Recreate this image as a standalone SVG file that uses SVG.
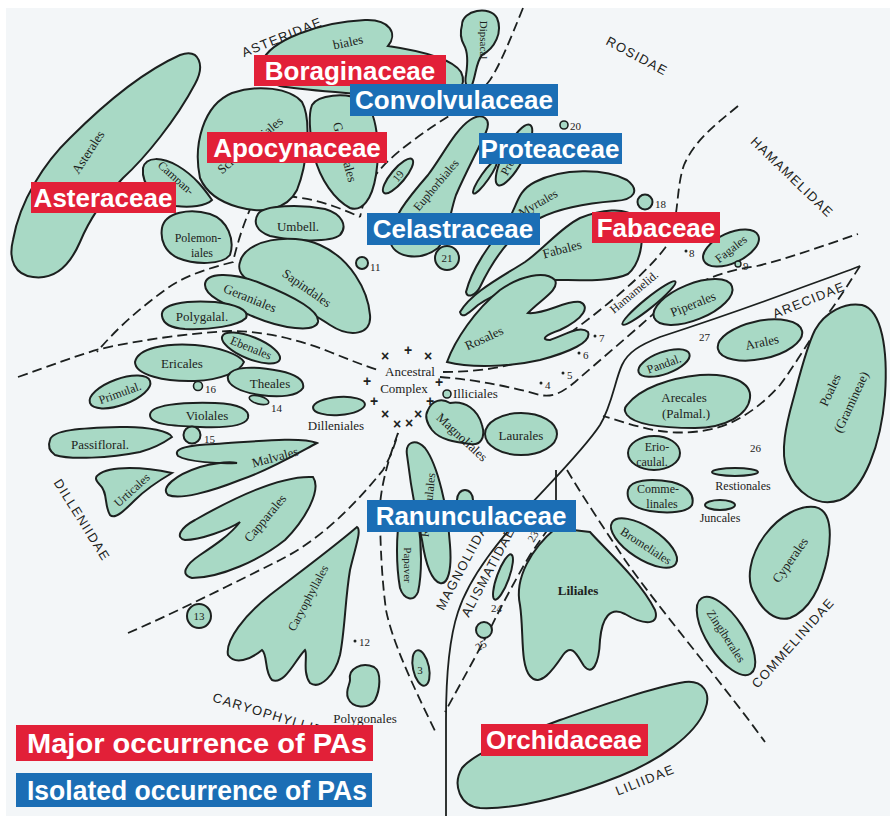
<svg xmlns="http://www.w3.org/2000/svg" width="890" height="816" viewBox="0 0 890 816">
<style>
.b{fill:#a8d9c5;stroke:#1c201f;stroke-width:2}
.t{font-family:"Liberation Serif","DejaVu Serif",serif;font-size:13px;fill:#1c2220;text-anchor:middle;dominant-baseline:central}
.s12{font-size:12px}
.s11{font-size:11px}
.n{font-family:"Liberation Serif","DejaVu Serif",serif;font-size:11px;fill:#1c2220;dominant-baseline:central}
.sub{font-family:"Liberation Sans",Arial,sans-serif;font-size:13px;letter-spacing:1.3px;fill:#1c2220;text-anchor:middle;dominant-baseline:central}
.d{fill:none;stroke:#1c201f;stroke-width:1.8;stroke-dasharray:10 5}
.sl{fill:none;stroke:#1c201f;stroke-width:1.8}
.r{fill:#e22038}
.bl{fill:#1b6eb5}
.lt{font-family:"Liberation Sans",Arial,sans-serif;font-weight:bold;font-size:26px;fill:#ffffff;text-anchor:middle}
.lg{font-family:"Liberation Sans",Arial,sans-serif;font-weight:bold;font-size:28px;fill:#ffffff}
.m{font-family:"Liberation Sans",Arial,sans-serif;font-size:14px;font-weight:bold;fill:#1c2220;text-anchor:middle;dominant-baseline:central}
.dot{fill:#1c2220}
</style>
<rect x="0" y="0" width="890" height="816" fill="#ffffff"/>
<rect x="6" y="8" width="884" height="808" fill="#f3f6f8"/>

<g id="connectors">
<path class="d" d="M 523,8 C 510,40 500,65 490,80 C 475,100 455,112 435,125 C 410,142 385,160 372,180 C 366,192 363,205 360,217"/>
<path class="d" d="M 243,204 C 260,198 280,195 295,197 C 320,200 340,208 360,217"/>
<path class="d" d="M 252,205 C 245,220 238,240 233,262 C 210,268 185,275 165,290 C 140,308 115,330 97,352"/>
<path class="d" d="M 18,377 C 50,366 75,356 100,349 C 140,340 190,333 230,331 C 265,331 300,340 330,352 C 350,360 365,366 378,370"/>
<path class="d" d="M 440,377 C 480,380 515,388 540,395 C 555,398 565,390 575,382 C 600,360 630,335 660,308 C 685,287 715,272 757,266 C 790,258 825,245 858,234"/>
<path class="d" d="M 738,106 C 715,125 695,140 684,165 C 675,190 680,225 665,248 C 650,268 625,290 600,310 C 575,330 545,352 520,362 C 495,370 465,372 440,372"/>
<path class="d" d="M 128,633 C 170,615 230,585 280,560 C 320,540 355,505 383,470 C 390,458 395,445 398,433"/>
<path class="d" d="M 398,433 C 390,455 382,480 380,505 C 380,545 382,580 386,610 C 392,640 410,680 437,735"/>
<path class="sl" d="M 556,470 L 556,515"/>
<path class="d" d="M 556,515 C 550,528 540,540 530,555 C 515,580 505,600 497,615 C 485,640 468,670 445,712"/>
<path class="d" d="M 567,470 C 585,500 605,530 625,560 C 660,610 720,680 765,742"/>
<path class="sl" d="M 446,816 L 446,720 C 446,680 448,642 458,612 C 470,575 500,540 530,505 C 555,478 585,448 600,425 C 612,405 615,380 622,365 C 628,352 640,345 660,337 C 700,324 755,305 795,290 C 822,280 845,272 860,266"/>
<path class="d" d="M 860,266 C 848,285 835,305 822,322 C 808,342 795,365 780,385 C 765,402 748,415 728,424 C 705,433 680,434 660,431 C 640,428 620,421 603,416"/>
</g>

<g id="subclass-labels">
<text class="sub" transform="translate(282,37) rotate(-22)">ASTERIDAE</text>
<text class="sub" transform="translate(637,56) rotate(28)">ROSIDAE</text>
<text class="sub" transform="translate(792,177) rotate(44)">HAMAMELIDAE</text>
<text class="sub" transform="translate(809,300) rotate(-22)">ARECIDAE</text>
<text class="sub" transform="translate(793,643) rotate(-48)">COMMELINIDAE</text>
<text class="sub" transform="translate(645,780) rotate(-22)">LILIIDAE</text>
<text class="sub" transform="translate(82,520) rotate(58)">DILLENIIDAE</text>
<text class="sub" style="text-anchor:start" transform="translate(213,697) rotate(17)">CARYOPHYLLIDAE</text>
<text class="sub" transform="translate(464,563) rotate(-62)">MAGNOLIIDAE</text>
<text class="sub" transform="translate(488,572) rotate(-62)">ALISMATIDAE</text>
</g>

<g id="asterales"><path class="b" d="M 33,277 C 15,275 8,260 13,240 C 20,200 45,162 70,138 C 103,105 142,72 180,55 C 200,48 205,66 195,84 C 176,120 145,158 123,178 C 105,197 90,218 80,242 C 70,265 55,280 33,277 Z"/><text class="t" transform="translate(88,152) rotate(-57)">Asterales</text></g>
<g id="campanulales"><path class="b" d="M 143,168 C 146,156 162,157 178,166 C 195,176 205,190 212,200 C 206,206 190,208 176,206 C 158,202 141,186 143,168 Z"/><text class="t s12" transform="translate(176,178) rotate(42)">Campan-</text></g>
<g id="lamiales"><path class="b" d="M 262,62 C 270,40 320,22 365,20 C 390,19 398,34 388,46 C 415,50 452,58 461,72 C 468,86 455,98 440,100 C 410,104 385,98 368,95 C 340,92 300,90 280,86 C 266,82 258,72 262,62 Z"/><text class="t" transform="translate(348,42) rotate(-12)">biales</text></g>
<g id="scrophulariales"><path class="b" d="M 200,178 C 193,145 203,105 232,93 C 258,84 290,88 302,102 C 312,120 307,165 297,190 C 287,210 262,214 238,207 C 220,202 206,192 200,178 Z"/><text class="t" transform="translate(250,145) rotate(-40)">Scrophulariales</text></g>
<g id="gentianales"><path class="b" d="M 312,105 C 318,95 345,92 362,100 C 378,110 380,150 376,175 C 372,200 362,212 350,208 C 335,200 320,180 314,155 C 310,135 308,115 312,105 Z"/><text class="t" transform="translate(345,152) rotate(75)">Gentianales</text></g>
<g id="dipsacales"><path class="b" d="M 462,25 C 462,10 490,5 497,18 C 503,32 495,48 482,55 C 476,62 476,75 472,85 C 468,90 464,85 466,75 C 468,62 468,52 464,45 C 460,38 460,32 462,25 Z"/><text class="t s11" transform="translate(484,40) rotate(90)">Dipsacal</text></g>
<g id="n19"><ellipse class="b" cx="398" cy="176" rx="22" ry="7" transform="rotate(-50 398 176)"/><text class="t s11" transform="translate(398,176) rotate(-50)">19</text></g>
<g id="polemoniales"><path class="b" d="M 162,228 C 165,212 190,208 210,214 C 228,220 235,240 230,255 C 222,265 195,265 178,258 C 165,252 160,240 162,228 Z"/><text class="t s12" x="198" y="238">Polemon-</text><text class="t s12" x="202" y="253">iales</text></g>
<g id="umbellales"><path class="b" d="M 258,214 C 264,205 300,204 325,209 C 342,214 348,226 340,235 C 330,243 292,241 270,236 C 256,231 253,222 258,214 Z"/><text class="t" x="298" y="226">Umbell.</text></g>
<g id="sapindales"><path class="b" d="M 240,262 C 245,240 290,232 320,245 C 350,258 368,290 370,315 C 372,335 350,338 330,325 C 300,305 265,290 248,280 C 240,275 238,268 240,262 Z"/><text class="t" transform="translate(307,288) rotate(35)">Sapindales</text></g>
<g id="n11"><circle class="b" cx="362" cy="263" r="6"/><text class="n" x="370" y="267">11</text></g>
<g id="geraniales"><path class="b" d="M 205,285 C 205,272 232,272 260,283 C 290,295 320,310 318,322 C 315,333 282,329 252,316 C 224,304 205,296 205,285 Z"/><text class="t" transform="translate(250,298) rotate(22)">Geraniales</text></g>
<g id="polygalales"><path class="b" d="M 162,316 C 160,304 185,300 215,302 C 235,304 250,310 246,318 C 238,326 210,330 185,329 C 170,328 163,323 162,316 Z"/><text class="t" x="202" y="316">Polygalal.</text></g>
<g id="ebenales"><ellipse class="b" cx="251" cy="348" rx="31" ry="11" transform="rotate(22 251 348)"/><text class="t s12" transform="translate(251,348) rotate(22)">Ebenales</text></g>
<g id="ericales"><path class="b" d="M 135,362 C 138,348 165,343 195,345 C 220,347 240,355 244,362 C 240,372 220,380 195,381 C 165,382 135,375 135,362 Z"/><text class="t" x="182" y="363">Ericales</text></g>
<g id="theales"><path class="b" d="M 228,376 C 232,366 255,366 280,371 C 295,374 305,380 303,388 C 298,396 280,398 260,395 C 240,392 226,385 228,376 Z"/><text class="t" x="270" y="383">Theales</text></g>
<g id="primulales"><ellipse class="b" cx="120" cy="392" rx="32" ry="13" transform="rotate(-20 120 392)"/><text class="t s12" transform="translate(120,393) rotate(-20)">Primulal.</text></g>
<g id="n16"><circle class="b" cx="198" cy="386" r="4.5" style="stroke-width:1.6"/><text class="n" x="205" y="389">16</text></g>
<g id="n14"><ellipse class="b" cx="259" cy="400" rx="10" ry="4" transform="rotate(15 259 400)" style="stroke-width:1.6"/><text class="n" x="271" y="408">14</text></g>
<g id="violales"><path class="b" d="M 150,415 C 150,405 180,402 215,403 C 240,404 250,410 248,418 C 245,426 225,428 200,427 C 175,426 150,425 150,415 Z"/><text class="t" x="207" y="415">Violales</text></g>
<g id="n15"><circle class="b" cx="192" cy="435" r="8.5"/><text class="n" x="204" y="439">15</text></g>
<g id="passiflorales"><path class="b" d="M 50,440 C 52,430 80,428 120,427 C 150,426 170,432 172,437 C 165,442 155,448 140,452 C 110,458 70,460 55,455 C 48,450 48,445 50,440 Z"/><text class="t" x="100" y="444">Passifloral.</text></g>
<g id="urticales"><path class="b" d="M 98,475 C 110,465 145,467 172,473 C 160,480 145,490 135,500 C 125,510 115,520 110,515 C 104,505 108,492 100,485 C 95,480 95,477 98,475 Z"/><text class="t s12" transform="translate(132,490) rotate(-42)">Urticales</text></g>
<g id="malvales"><path class="b" d="M 317,443 C 300,452 270,470 240,480 C 210,492 180,500 168,495 C 160,488 175,475 200,467 C 220,462 232,462 237,463 C 220,464 188,462 178,456 C 172,448 190,445 215,444 C 250,442 300,436 317,443 Z"/><text class="t" transform="translate(275,457) rotate(-15)">Malvales</text></g>
<g id="capparales"><path class="b" d="M 313,477 C 322,490 305,520 285,540 C 260,560 220,578 192,578 C 180,575 185,565 200,555 C 215,545 230,535 240,522 C 228,530 200,540 185,540 C 175,538 180,528 195,520 C 230,500 280,475 313,477 Z"/><text class="t" transform="translate(265,518) rotate(-50)">Capparales</text></g>
<g id="n13"><circle class="b" cx="199" cy="616" r="12"/><text class="t s11" x="199" y="616">13</text></g>
<g id="caryophyllales"><path class="b" d="M 357,527 C 362,530 355,548 350,570 C 345,600 345,630 340,655 C 335,675 320,690 310,683 C 302,672 308,655 305,650 C 295,660 285,685 272,680 C 264,672 268,655 262,650 C 250,660 235,665 228,655 C 225,640 245,615 270,595 C 300,572 330,550 357,527 Z"/><text class="t s12" transform="translate(308,598) rotate(-62)">Caryophyllales</text></g>
<g id="n12"><circle class="dot" cx="355" cy="641" r="1.5"/><text class="n" x="359" y="642">12</text></g>
<g id="polygonales"><path class="b" d="M 350,680 C 348,668 362,662 374,667 C 382,672 380,690 375,700 C 368,710 352,708 348,698 C 345,690 350,685 350,680 Z"/><text class="t" x="365" y="718">Polygonales</text></g>
<g id="n3"><ellipse class="b" cx="421" cy="668" rx="8" ry="18" transform="rotate(-12 421 668)"/><text class="t s11" x="420" y="670">3</text></g>
<g id="papaverales"><path class="b" d="M 400,515 C 405,505 415,508 418,520 C 422,545 422,575 418,592 C 414,602 404,600 400,588 C 396,565 396,535 400,515 Z"/><text class="t s11" transform="translate(408,565) rotate(90)">Papaver</text></g>
<g id="ranunculales"><path class="b" d="M 407,455 C 405,442 415,438 425,448 C 438,465 448,510 450,545 C 452,570 448,585 440,583 C 430,580 425,560 422,540 C 416,515 410,480 407,455 Z"/><text class="t s12" transform="translate(428,505) rotate(-84)">Ranunculales</text></g>
<g id="n2"><ellipse class="b" cx="465" cy="500" rx="8" ry="10"/></g>
<g id="n23"><text class="n" transform="translate(530,541) rotate(-60)">23</text></g>
<g id="n24"><ellipse class="b" cx="503" cy="577" rx="6" ry="24" transform="rotate(20 503 577)"/><text class="n" x="491" y="608">24</text></g>
<g id="n25"><circle class="b" cx="484" cy="630" r="8"/><text class="n" transform="translate(476,648) rotate(-30)">25</text></g>
<g id="liliales"><path class="b" d="M 520,605 C 514,578 532,548 556,528 L 590,532 C 606,550 640,580 655,610 C 660,625 645,626 625,614 C 610,606 602,618 600,640 C 599,665 592,676 584,666 C 577,655 572,643 563,655 C 553,670 540,688 530,676 C 520,664 524,632 520,605 Z"/><text class="t" style="font-weight:bold" x="578" y="590">Liliales</text></g>
<g id="orchidales"><path class="b" d="M 462,768 C 475,752 520,735 560,720 C 600,706 650,688 685,682 C 702,680 712,692 705,710 C 695,735 660,760 620,776 C 580,792 520,810 480,808 C 460,806 452,785 462,768 Z"/><text class="t" x="575" y="751">Orchidales</text></g>
<g id="bromeliales"><ellipse class="b" cx="644" cy="543" rx="38" ry="16" transform="rotate(33 644 543)"/><text class="t s12" transform="translate(646,546) rotate(33)">Bromeliales</text></g>
<g id="zingiberales"><ellipse class="b" cx="726" cy="636" rx="45" ry="19" transform="rotate(57 726 636)"/><text class="t s12" transform="translate(726,636) rotate(57)">Zingiberales</text></g>
<g id="cyperales"><path class="b" d="M 755,595 C 745,580 750,555 765,535 C 780,515 800,505 815,507 C 830,510 832,530 828,555 C 822,585 810,610 790,618 C 775,622 762,610 755,595 Z"/><text class="t" transform="translate(790,560) rotate(-55)">Cyperales</text></g>
<g id="eriocaulales"><ellipse class="b" cx="654" cy="453" rx="26" ry="17"/><text class="t s12" x="657" y="447">Erio-</text><text class="t s12" x="652" y="462">caulal.</text></g>
<g id="commelinales"><path class="b" d="M 628,490 C 630,480 650,478 672,482 C 688,486 695,495 692,505 C 688,512 670,514 650,511 C 632,508 626,500 628,490 Z"/><text class="t s12" x="658" y="489">Comme-</text><text class="t s12" x="662" y="504">linales</text></g>
<g id="restionales"><ellipse class="b" cx="735" cy="472" rx="23" ry="4"/><text class="t s12" x="743" y="486">Restionales</text></g>
<g id="juncales"><ellipse class="b" cx="720" cy="505" rx="15" ry="5"/><text class="t s12" x="720" y="518">Juncales</text></g>
<g id="n26"><text class="n" x="750" y="448">26</text></g>
<g id="poales"><path class="b" d="M 815,330 C 825,312 845,302 862,305 C 882,310 888,350 885,395 C 881,445 864,490 840,500 C 816,508 796,492 787,470 C 780,452 786,425 793,400 C 799,378 806,348 815,330 Z"/><text class="t" transform="translate(830,390) rotate(-65)">Poales</text><text class="t" transform="translate(851,402) rotate(-65)">(Gramineae)</text></g>
<g id="arecales"><path class="b" d="M 627,405 C 640,388 670,378 700,375 C 730,373 752,382 750,398 C 748,415 725,428 695,428 C 665,428 635,425 627,415 C 624,411 624,408 627,405 Z"/><text class="t" x="684" y="397">Arecales</text><text class="t" x="686" y="413">(Palmal.)</text></g>
<g id="pandanales"><ellipse class="b" cx="664" cy="363" rx="27" ry="11" transform="rotate(-20 664 363)"/><text class="t s12" transform="translate(664,364) rotate(-20)">Pandal.</text></g>
<g id="n27"><text class="n" x="699" y="337">27</text></g>
<g id="arales"><ellipse class="b" cx="760" cy="340" rx="43" ry="19" transform="rotate(-12 760 340)"/><text class="t" transform="translate(762,342) rotate(-12)">Arales</text></g>
<g id="piperales"><ellipse class="b" cx="693" cy="302" rx="42" ry="18" transform="rotate(-22 693 302)"/><text class="t" transform="translate(693,304) rotate(-22)">Piperales</text></g>
<g id="hamamelidales"><ellipse class="b" cx="649" cy="303" rx="34" ry="5" transform="rotate(-39 649 303)"/><text class="t s12" transform="translate(634,292) rotate(-40)">Hamamelid.</text></g>
<g id="fagales"><ellipse class="b" cx="731" cy="248" rx="30" ry="15" transform="rotate(-25 731 248)"/><text class="t s12" transform="translate(731,249) rotate(-38)">Fagales</text></g>
<g id="n8"><circle class="dot" cx="686" cy="251" r="1.5"/><text class="n" x="689" y="253">8</text></g>
<g id="n9"><circle class="b" cx="738" cy="264" r="3" style="stroke-width:1.4"/><text class="n" x="743" y="266">9</text></g>
<g id="n18"><circle class="b" cx="645" cy="202" r="7.5"/><text class="n" x="655" y="204">18</text></g>
<g id="n20"><circle class="b" cx="564" cy="125" r="4" style="stroke-width:1.6"/><text class="n" x="570" y="126">20</text></g>
<g id="euphorbiales"><path class="b" d="M 390,240 C 390,220 408,198 428,175 C 443,155 455,130 470,120 C 482,112 492,118 486,132 C 478,150 466,172 456,195 C 450,212 448,236 438,248 C 420,262 392,258 390,240 Z"/><text class="t s12" transform="translate(436,185) rotate(-50)">Euphorbiales</text></g>
<g id="elaeagnales"><ellipse class="b" cx="485" cy="177" rx="20" ry="4" transform="rotate(-55 485 177)"/></g>
<g id="proteales"><ellipse class="b" cx="514" cy="155" rx="34" ry="10" transform="rotate(-62 514 155)"/><text class="t s12" transform="translate(514,155) rotate(-62)">Proteales</text></g>
<g id="myrtales"><path class="b" d="M 466,292 C 472,268 490,244 505,225 C 518,208 515,192 535,182 C 562,168 605,168 627,180 C 640,190 635,200 615,201 C 590,203 560,208 540,218 C 510,232 492,262 480,287 C 476,295 467,299 466,292 Z"/><text class="t s12" transform="translate(538,203) rotate(-30)">Myrtales</text></g>
<g id="fabales"><path class="b" d="M 460,312 C 472,292 500,278 525,262 C 545,248 560,228 580,218 C 600,210 625,206 637,218 C 646,232 642,262 628,274 C 612,282 580,280 555,280 C 530,281 500,290 478,305 C 470,312 462,320 460,312 Z"/><text class="t" transform="translate(562,249) rotate(-15)">Fabales</text></g>
<g id="n21"><circle class="b" cx="447" cy="258" r="12"/><text class="t s11" x="447" y="258">21</text></g>
<g id="rosales"><path class="b" d="M 447,362 C 455,340 475,310 500,290 C 520,276 545,270 555,280 C 560,290 540,300 528,313 C 545,315 565,300 580,302 C 590,306 585,318 560,330 C 545,335 540,340 550,340 C 565,335 580,325 588,332 C 592,342 570,352 540,360 C 510,367 470,368 447,362 Z"/><text class="t" transform="translate(484,338) rotate(-25)">Rosales</text></g>
<g id="ancestral-complex"><text class="t" x="410" y="371">Ancestral</text><text class="t" x="404" y="388">Complex</text>
<text class="m" x="385" y="356">×</text><text class="m" x="408" y="350">+</text><text class="m" x="428" y="356">×</text><text class="m" x="367" y="381">+</text><text class="m" x="439" y="382">+</text><text class="m" x="374" y="401">+</text><text class="m" x="430" y="401">+</text><text class="m" x="385" y="414">×</text><text class="m" x="418" y="414">×</text><text class="m" x="397" y="424">×</text><text class="m" x="409" y="423">×</text></g>
<g id="illiciales"><circle class="b" cx="447" cy="394" r="4" style="stroke-width:1.6"/><text class="t" style="text-anchor:start" x="453" y="393">Illiciales</text></g>
<g id="dilleniales"><ellipse class="b" cx="339" cy="406" rx="26" ry="9" transform="rotate(-4 339 406)"/><text class="t" x="336" y="425">Dilleniales</text></g>
<g id="magnoliales"><path class="b" d="M 428,410 C 432,400 442,398 450,403 C 465,400 478,410 482,425 C 486,438 480,446 470,444 C 455,442 440,440 432,430 C 426,422 425,415 428,410 Z"/><text class="t" transform="translate(462,437) rotate(43)">Magnoliales</text></g>
<g id="laurales"><ellipse class="b" cx="521" cy="434" rx="36" ry="21"/><text class="t" x="521" y="435">Laurales</text></g>
<g id="dots-4-7"><circle class="dot" cx="541" cy="383" r="1.5"/><text class="n" x="545" y="385">4</text><circle class="dot" cx="563" cy="373" r="1.5"/><text class="n" x="567" y="375">5</text><circle class="dot" cx="579" cy="353" r="1.5"/><text class="n" x="583" y="355">6</text><circle class="dot" cx="595" cy="336" r="1.5"/><text class="n" x="599" y="338">7</text></g>

<g id="pa-labels">
<rect class="r" x="254" y="55" width="192" height="31"/><text class="lt" x="350" y="80">Boraginaceae</text>
<rect class="bl" x="350" y="84" width="208" height="32"/><text class="lt" x="454" y="109">Convolvulaceae</text>
<rect class="r" x="207" y="132" width="180" height="31"/><text class="lt" x="297" y="157">Apocynaceae</text>
<rect class="bl" x="479" y="133" width="143" height="31"/><text class="lt" x="550" y="158">Proteaceae</text>
<rect class="r" x="31" y="182" width="145" height="31"/><text class="lt" x="103" y="207">Asteraceae</text>
<rect class="bl" x="367" y="213" width="173" height="32"/><text class="lt" x="453" y="238">Celastraceae</text>
<rect class="r" x="592" y="212" width="128" height="31"/><text class="lt" x="656" y="237">Fabaceae</text>
<rect class="bl" x="367" y="500" width="209" height="32"/><text class="lt" x="471" y="525">Ranunculaceae</text>
<rect class="r" x="481" y="724" width="167" height="32"/><text class="lt" x="564" y="749">Orchidaceae</text>
</g>
<g id="legend">
<rect class="r" x="16" y="725" width="357" height="36"/><text class="lg" x="27" y="753" textLength="340" lengthAdjust="spacingAndGlyphs">Major occurrence of PAs</text>
<rect class="bl" x="16" y="773" width="356" height="34"/><text class="lg" x="27" y="800" textLength="340" lengthAdjust="spacingAndGlyphs">Isolated occurrence of PAs</text>
</g>
</svg>
